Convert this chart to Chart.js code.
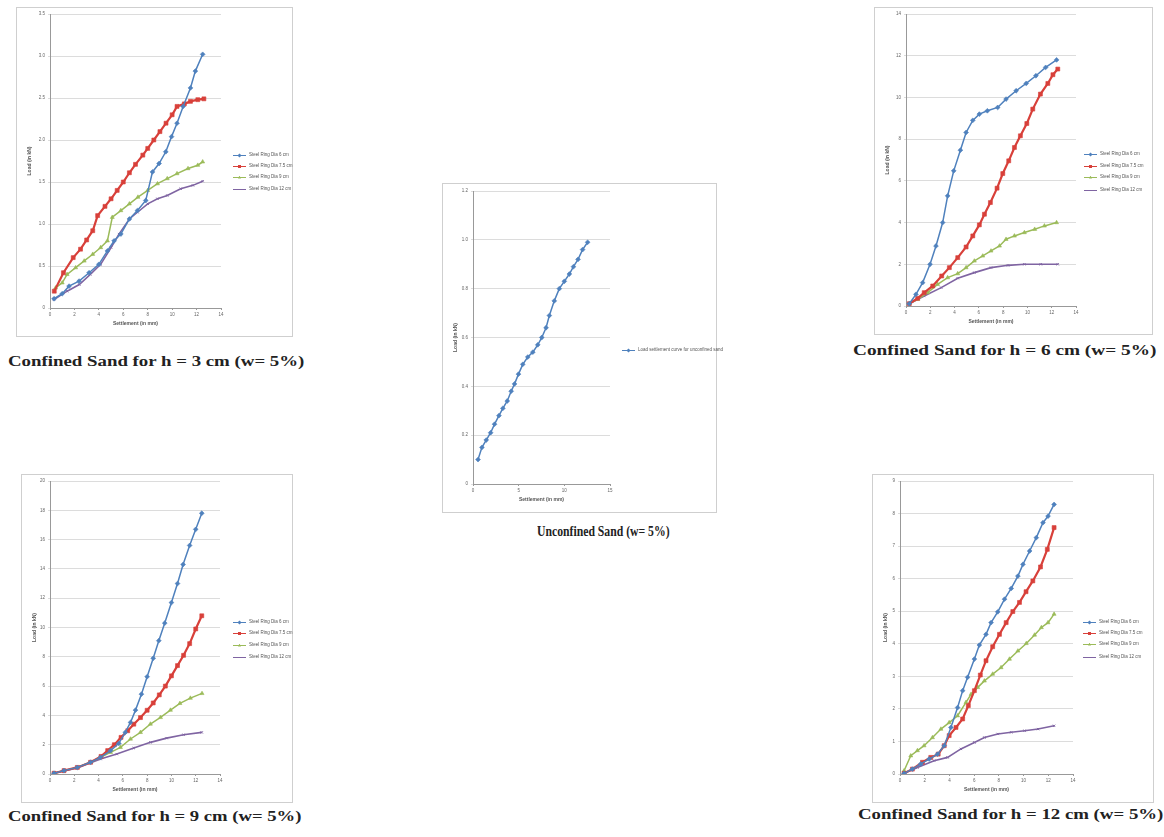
<!DOCTYPE html>
<html>
<head>
<meta charset="utf-8">
<script src="https://cdn.jsdelivr.net/npm/chart.js@4"></script>
<style>
  body { margin: 0; background: #fff; }
  #page { position: relative; width: 1164px; height: 837px; overflow: hidden; background: #fff; }
  .box { position: absolute; border: 1px solid #cfcfcf; background: #fff; box-sizing: border-box; }
  .box canvas { position: absolute; left: 0; top: 0; }
  .legend { position: absolute; font: 4.5px "Liberation Sans", Arial, sans-serif; color: #555; white-space: nowrap; }
  .legend .row { position: absolute; left: 0; height: 6px; line-height: 6px; }
  .legend .line { position: absolute; left: 0; top: 2.5px; width: 13px; height: 0; border-top: 1.4px solid; }
  .legend .mk { position: absolute; left: 5px; top: 1.5px; width: 3px; height: 3px; }
  .legend .txt { position: absolute; left: 16px; top: 0; }
  .caption { position: absolute; font: bold 14px "Liberation Serif", "DejaVu Serif", serif; color: #222; white-space: nowrap; transform-origin: 0 50%; }
</style>
</head>
<body>
<div id="page"></div>
<script>
// tick labels / titles
var settlementTitle = 'Settlement (in mm)';
var loadTitle = 'Load (in kN)';
var ringLabels = ['Steel Ring Dia 6 cm', 'Steel Ring Dia 7.5 cm', 'Steel Ring Dia 9 cm', 'Steel Ring Dia 12 cm'];
var unconfinedLabel = 'Load settlement curve for unconfined sand';

// h = 3 cm  [settlement, load]
var h3Ring1 = [[0.33,0.11],[1.0,0.17],[1.56,0.26],[2.38,0.32],[3.2,0.42],[4.0,0.52],[4.7,0.68],[5.25,0.8],[5.8,0.88],[6.5,1.06],[7.16,1.16],[7.84,1.28],[8.39,1.62],[8.93,1.72],[9.48,1.86],[9.95,2.04],[10.4,2.2],[10.9,2.4],[11.5,2.62],[11.9,2.82],[12.5,3.02]];
var h3Ring2 = [[0.35,0.2],[1.1,0.42],[1.9,0.6],[2.5,0.7],[3.0,0.81],[3.5,0.92],[3.9,1.1],[4.5,1.21],[5.0,1.3],[5.5,1.4],[6.0,1.5],[6.5,1.61],[7.0,1.71],[7.6,1.82],[8.0,1.9],[8.5,2.0],[9.0,2.1],[9.5,2.2],[10.0,2.3],[10.4,2.4],[11.0,2.43],[11.5,2.46],[12.1,2.48],[12.6,2.49]];
var h3Ring3 = [[0.46,0.24],[1.0,0.3],[1.4,0.4],[2.1,0.48],[2.8,0.56],[3.5,0.64],[4.15,0.72],[4.7,0.8],[5.1,1.08],[5.8,1.16],[6.5,1.24],[7.2,1.32],[8.0,1.4],[8.8,1.48],[9.6,1.54],[10.4,1.6],[11.3,1.66],[12.1,1.7],[12.5,1.74]];
var h3Ring4 = [[0.33,0.1],[1.4,0.2],[2.4,0.28],[3.3,0.4],[4.15,0.52],[5.0,0.72],[5.65,0.88],[6.5,1.06],[7.16,1.14],[8.0,1.24],[8.8,1.3],[9.6,1.34],[10.7,1.42],[11.7,1.46],[12.5,1.51]];

// h = 6 cm
var h6Ring1 = [[0.27,0.11],[0.82,0.56],[1.37,1.12],[1.98,2.0],[2.47,2.88],[3.02,4.0],[3.43,5.28],[3.93,6.48],[4.48,7.47],[4.95,8.32],[5.5,8.9],[6.04,9.2],[6.7,9.36],[7.55,9.52],[8.24,9.92],[9.07,10.32],[9.9,10.67],[10.7,11.04],[11.5,11.44],[12.4,11.8]];
var h6Ring2 = [[0.27,0.11],[0.96,0.37],[1.5,0.64],[2.2,0.96],[2.94,1.44],[3.57,1.84],[4.26,2.32],[4.95,2.83],[5.5,3.36],[6.04,3.89],[6.46,4.4],[6.95,4.96],[7.5,5.65],[7.97,6.35],[8.46,6.96],[8.93,7.6],[9.42,8.16],[9.95,8.75],[10.44,9.44],[11.07,10.16],[11.68,10.67],[12.1,11.09],[12.5,11.36]];
var h6Ring3 = [[0.27,0.11],[0.96,0.32],[1.79,0.64],[2.6,1.04],[3.43,1.36],[4.26,1.55],[4.95,1.84],[5.63,2.16],[6.32,2.4],[7.0,2.64],[7.7,2.88],[8.24,3.2],[8.93,3.36],[9.75,3.52],[10.6,3.68],[11.4,3.84],[12.4,4.0]];
var h6Ring4 = [[0.27,0.11],[1.5,0.48],[2.9,0.88],[4.26,1.33],[5.63,1.6],[7.0,1.84],[8.4,1.95],[9.75,2.0],[11.1,2.0],[12.5,2.0]];

// h = 9 cm
var h9Ring1 = [[0.33,0.05],[1.15,0.23],[2.25,0.45],[3.34,0.8],[4.16,1.14],[4.99,1.6],[5.67,2.09],[6.2,2.84],[6.63,3.52],[7.04,4.36],[7.53,5.45],[8.0,6.64],[8.5,7.9],[8.96,9.1],[9.45,10.3],[10.0,11.7],[10.5,13.0],[10.96,14.3],[11.5,15.6],[12.0,16.7],[12.5,17.8]];
var h9Ring2 = [[0.33,0.05],[1.15,0.23],[2.25,0.45],[3.34,0.8],[4.2,1.2],[4.75,1.6],[5.3,2.0],[5.85,2.5],[6.4,2.95],[6.9,3.4],[7.45,3.85],[8.0,4.35],[8.5,4.85],[9.0,5.4],[9.5,6.0],[10.0,6.7],[10.5,7.4],[11.0,8.1],[11.5,8.9],[12.0,9.9],[12.5,10.8]];
var h9Ring3 = [[0.33,0.05],[1.15,0.23],[2.25,0.45],[3.34,0.8],[4.99,1.48],[5.8,1.82],[6.63,2.39],[7.45,2.84],[8.27,3.41],[9.1,3.86],[9.92,4.36],[10.7,4.82],[11.56,5.18],[12.52,5.5]];
var h9Ring4 = [[0.33,0.05],[2.25,0.41],[4.16,1.02],[5.5,1.36],[6.9,1.77],[8.27,2.16],[9.6,2.45],[11.0,2.68],[12.5,2.84]];

// h = 12 cm
var h12Ring1 = [[0.33,0.02],[1.0,0.15],[1.68,0.31],[2.36,0.46],[3.04,0.61],[3.58,0.87],[4.12,1.43],[4.66,2.04],[5.07,2.56],[5.47,2.97],[6.02,3.53],[6.42,3.96],[6.96,4.29],[7.37,4.65],[7.91,4.98],[8.46,5.37],[9.0,5.7],[9.54,6.08],[9.95,6.44],[10.49,6.85],[11.03,7.26],[11.57,7.72],[11.98,7.92],[12.47,8.28]];
var h12Ring2 = [[0.33,0.02],[1.0,0.15],[1.82,0.36],[2.49,0.51],[3.09,0.61],[3.58,0.87],[3.98,1.18],[4.53,1.43],[5.07,1.69],[5.53,2.1],[6.02,2.56],[6.5,3.04],[6.96,3.48],[7.5,3.91],[8.05,4.29],[8.59,4.65],[9.13,4.99],[9.67,5.27],[10.2,5.6],[10.75,5.93],[11.37,6.36],[11.92,6.9],[12.47,7.57]];
var h12Ring3 = [[0.33,0.1],[0.87,0.56],[1.41,0.72],[1.95,0.87],[2.63,1.12],[3.31,1.38],[3.98,1.58],[4.66,1.79],[5.34,2.2],[5.75,2.45],[6.29,2.66],[6.83,2.86],[7.5,3.07],[8.18,3.27],[8.86,3.53],[9.54,3.78],[10.22,4.01],[10.89,4.27],[11.44,4.5],[11.98,4.65],[12.47,4.91]];
var h12Ring4 = [[0.33,0.02],[1.41,0.2],[2.76,0.41],[3.85,0.51],[4.93,0.77],[6.02,0.97],[6.83,1.12],[7.91,1.23],[9.0,1.28],[10.08,1.33],[11.17,1.38],[12.47,1.48]];

// unconfined sand
var unconfined = [[0.55,0.10],[0.98,0.15],[1.45,0.18],[1.93,0.21],[2.36,0.245],[2.84,0.28],[3.27,0.31],[3.75,0.34],[4.18,0.38],[4.55,0.41],[4.98,0.45],[5.45,0.49],[6.0,0.52],[6.55,0.54],[7.09,0.57],[7.53,0.6],[8.0,0.64],[8.36,0.69],[8.9,0.75],[9.45,0.8],[10.0,0.83],[10.55,0.86],[11.0,0.89],[11.5,0.92],[12.0,0.96],[12.55,0.99]];

var styles = [
    { color: '#4F81BD', point: 'rectRot', r: 2.4, w: 1.5, mk: 'diamond' },
    { color: '#D8403A', point: 'rect', r: 2.8, w: 2.2, mk: 'square' },
    { color: '#9BBB59', point: 'triangle', r: 2.3, w: 1.5, mk: 'tri' },
    { color: '#7F64A2', point: 'crossRot', r: 1.6, w: 1.6, mk: 'none' }
];

var page = document.getElementById('page');

function toXY(arr) {
    return arr.map(function (p) { return { x: p[0], y: p[1] }; });
}

function addLegend(x, rows, labels) {
    var lg = document.createElement('div');
    lg.className = 'legend';
    lg.style.left = x + 'px';
    lg.style.top = '0px';
    page.appendChild(lg);
    labels.forEach(function (lab, i) {
        var st = styles[i];
        var row = document.createElement('div');
        row.className = 'row';
        row.style.top = (rows[i] - 3) + 'px';
        var ln = document.createElement('span');
        ln.className = 'line';
        ln.style.borderTopColor = st.color;
        row.appendChild(ln);
        if (st.mk !== 'none') {
            var mk = document.createElement('span');
            mk.className = 'mk';
            mk.style.background = st.color;
            if (st.mk === 'diamond') mk.style.transform = 'rotate(45deg)';
            if (st.mk === 'tri') mk.style.clipPath = 'polygon(50% 0, 100% 100%, 0 100%)';
            row.appendChild(mk);
        }
        var t = document.createElement('span');
        t.className = 'txt';
        t.textContent = lab;
        row.appendChild(t);
        lg.appendChild(row);
    });
}

function addCaption(text, x0, x1, cy) {
    var c = document.createElement('div');
    c.className = 'caption';
    c.textContent = text;
    page.appendChild(c);
    var w = c.offsetWidth, h = c.offsetHeight;
    c.style.left = x0 + 'px';
    c.style.top = (cy - h / 2) + 'px';
    c.style.transform = 'scaleX(' + ((x1 - x0) / w) + ')';
}

function panel(p) {
    var box = document.createElement('div');
    box.className = 'box';
    box.style.left = p.box[0] + 'px';
    box.style.top = p.box[1] + 'px';
    box.style.width = p.box[2] + 'px';
    box.style.height = p.box[3] + 'px';
    var cv = document.createElement('canvas');
    cv.width = p.box[2];
    cv.height = p.box[3];
    box.appendChild(cv);
    page.appendChild(box);

    var W = p.box[2], H = p.box[3];
    var pl = p.plot[0] - p.box[0], pt = p.plot[1] - p.box[1];
    var pr = p.plot[2] - p.box[0], pb = p.plot[3] - p.box[1];
    var padLeft = 8, xH = 21;

    var datasets = p.series.map(function (s, i) {
        var st = styles[i];
        return {
            label: p.labels[i],
            data: toXY(s),
            showLine: true,
            borderColor: st.color,
            backgroundColor: st.color,
            borderWidth: st.w,
            pointStyle: st.point,
            pointRadius: st.r,
            pointBorderWidth: st.point === 'crossRot' ? 1 : 0.6,
            pointBorderColor: st.color,
            tension: 0
        };
    });

    new Chart(cv.getContext('2d'), {
        type: 'scatter',
        data: { datasets: datasets },
        options: {
            responsive: false,
            animation: false,
            devicePixelRatio: 1,
            layout: { padding: { left: padLeft, top: pt, right: W - pr, bottom: H - pb - xH } },
            plugins: { legend: { display: false }, tooltip: { enabled: false } },
            scales: {
                x: {
                    type: 'linear', min: 0, max: p.xMax,
                    ticks: { stepSize: p.xStep, font: { size: 4.5, family: 'Liberation Sans' }, color: '#666', padding: 2 },
                    grid: { drawOnChartArea: false, tickLength: 2, color: '#999' },
                    border: { color: '#999' },
                    title: { display: true, text: settlementTitle, font: { size: 5, weight: 'bold', family: 'Liberation Sans' }, color: '#555', padding: 2 },
                    afterFit: function (s) { s.height = xH; }
                },
                y: {
                    type: 'linear', min: 0, max: p.yMax,
                    ticks: { stepSize: p.yStep, font: { size: 4.5, family: 'Liberation Sans' }, color: '#666', padding: 3 },
                    grid: { color: '#dcdcdc', tickLength: 2 },
                    border: { color: '#999' },
                    title: { display: true, text: loadTitle, font: { size: 5, weight: 'bold', family: 'Liberation Sans' }, color: '#555', padding: 2 },
                    afterFit: function (s) { s.width = pl - padLeft; }
                }
            }
        }
    });

    addLegend(p.legendX, p.legendRows, p.labels);
    addCaption(p.caption, p.cap[0], p.cap[1], p.cap[2]);
}

panel({
    box: [16, 7, 277, 330], plot: [49, 13, 220, 307],
    xMax: 14, xStep: 2, yMax: 3.5, yStep: 0.5,
    series: [h3Ring1, h3Ring2, h3Ring3, h3Ring4], labels: ringLabels,
    legendX: 233, legendRows: [155, 166, 177, 189],
    caption: 'Confined Sand for h = 3 cm (w= 5%)', cap: [8, 304, 362]
});
panel({
    box: [874, 7, 279, 328], plot: [905, 13, 1075, 305],
    xMax: 14, xStep: 2, yMax: 14, yStep: 2,
    series: [h6Ring1, h6Ring2, h6Ring3, h6Ring4], labels: ringLabels,
    legendX: 1084, legendRows: [154, 166, 177, 190],
    caption: 'Confined Sand for h = 6 cm (w= 5%)', cap: [853, 1156, 351]
});
panel({
    box: [442, 183, 275, 330], plot: [472, 190, 609, 483],
    xMax: 15, xStep: 5, yMax: 1.2, yStep: 0.2,
    series: [unconfined], labels: [unconfinedLabel],
    legendX: 622, legendRows: [350],
    caption: 'Unconfined Sand (w= 5%)', cap: [537, 670, 532]
});
panel({
    box: [21, 474, 272, 329], plot: [49, 480, 219, 773],
    xMax: 14, xStep: 2, yMax: 20, yStep: 2,
    series: [h9Ring1, h9Ring2, h9Ring3, h9Ring4], labels: ringLabels,
    legendX: 233, legendRows: [622, 633, 645, 657],
    caption: 'Confined Sand for h = 9 cm (w= 5%)', cap: [8, 301, 817]
});
panel({
    box: [872, 474, 282, 329], plot: [899, 480, 1072, 773],
    xMax: 14, xStep: 2, yMax: 9, yStep: 1,
    series: [h12Ring1, h12Ring2, h12Ring3, h12Ring4], labels: ringLabels,
    legendX: 1083, legendRows: [622, 633, 644, 657],
    caption: 'Confined Sand for h = 12 cm (w= 5%)', cap: [858, 1163, 815]
});
</script>
</body>
</html>
